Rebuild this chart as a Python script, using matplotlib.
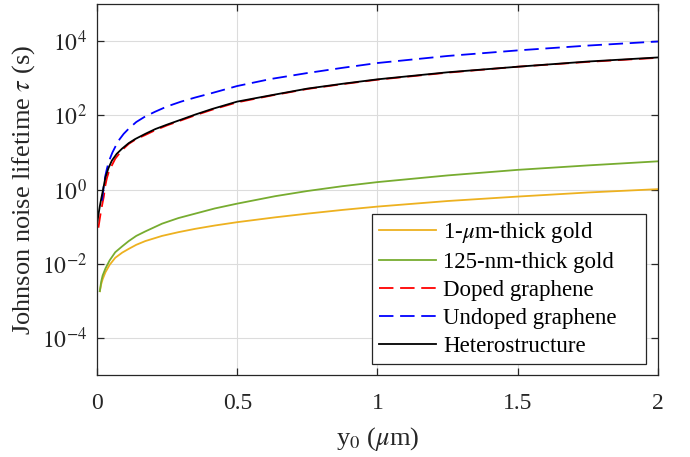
import numpy as np
import matplotlib
matplotlib.use("Agg")
import matplotlib.pyplot as plt

# values (x in um, log10 of tau in s)
gold_x = [0.01, 0.015, 0.02, 0.03, 0.045, 0.065, 0.09, 0.113, 0.14, 0.172,
          0.232, 0.29, 0.35, 0.42, 0.5, 0.635, 0.75, 0.875, 1.0, 1.25,
          1.5, 1.75, 2.0]
gold_1um = [-2.74, -2.55, -2.42, -2.23, -2.03, -1.84, -1.70, -1.60, -1.49,
            -1.39, -1.25, -1.15, -1.06, -0.97, -0.88, -0.75, -0.65, -0.55,
            -0.46, -0.31, -0.19, -0.08, 0.01]
gold_125nm = [-2.74, -2.48, -2.32, -2.13, -1.91, -1.69, -1.53, -1.39, -1.25,
              -1.13, -0.92, -0.77, -0.65, -0.51, -0.38, -0.18, -0.04, 0.09,
              0.20, 0.38, 0.53, 0.65, 0.76]

hetero_x = [0.0, 0.005, 0.01, 0.015, 0.021, 0.03, 0.041, 0.053, 0.07, 0.089,
            0.113, 0.136, 0.172, 0.208, 0.25, 0.291, 0.35, 0.41, 0.5, 0.62,
            0.75, 0.875, 1.0, 1.25, 1.5, 1.75, 2.0]
hetero = [-0.94, -0.68, -0.45, -0.25, -0.03, 0.33, 0.58, 0.78, 0.96, 1.10,
          1.25, 1.36, 1.50, 1.63, 1.75, 1.86, 2.02, 2.17, 2.37, 2.54, 2.72,
          2.85, 2.97, 3.16, 3.31, 3.45, 3.56]

doped_x = [0.005, 0.01, 0.015, 0.02, 0.024, 0.03, 0.035, 0.041, 0.047, 0.053,
           0.065, 0.089, 0.113, 0.14, 0.172, 0.208, 0.25, 0.291, 0.35, 0.41,
           0.5, 0.62, 0.75, 0.875, 1.0, 1.25, 1.5, 1.75, 2.0]
doped = [-1.03, -0.78, -0.55, -0.35, -0.20, 0.12, 0.30, 0.45, 0.55, 0.65,
         0.83, 1.06, 1.23, 1.36, 1.47, 1.60, 1.73, 1.84, 2.00, 2.15, 2.35,
         2.53, 2.71, 2.84, 2.96, 3.15, 3.31, 3.44, 3.55]

undoped_x = [0.018, 0.024, 0.03, 0.035, 0.041, 0.047, 0.055, 0.065, 0.08,
             0.095, 0.113, 0.14, 0.172, 0.208, 0.25, 0.3, 0.35, 0.41, 0.5,
             0.62, 0.75, 0.875, 1.0, 1.25, 1.5, 1.75, 2.0]
undoped = [-0.30, 0.10, 0.38, 0.55, 0.72, 0.85, 1.00, 1.15, 1.35, 1.50, 1.64,
           1.82, 1.97, 2.10, 2.24, 2.37, 2.48, 2.60, 2.79, 2.98, 3.14, 3.28,
           3.41, 3.60, 3.75, 3.88, 3.99]

yticks = [1e-4, 1e-2, 1e0, 1e2, 1e4]
xticks = [0, 0.5, 1, 1.5, 2]
xtick_labels = ["0", "0.5", "1", "1.5", "2"]

plt.rcParams["font.family"] = ["Liberation Serif", "DejaVu Serif"]
plt.rcParams["mathtext.fontset"] = "stix"

fig = plt.figure(figsize=(6.9, 4.57), dpi=100)
ax = fig.add_axes([0.1406, 0.1794, 0.8130, 0.8118])

lw = 1.3
dash = (8, 3.7)
ax.plot(gold_x, 10.0 ** np.array(gold_1um), color="#EDB120", lw=lw,
        label=r"1-$\mu$m-thick gold")
ax.plot(gold_x, 10.0 ** np.array(gold_125nm), color="#77AC30", lw=lw,
        label="125-nm-thick gold")
ax.plot(doped_x, 10.0 ** np.array(doped), color="red", lw=lw,
        dashes=dash, label="Doped graphene")
ax.plot(undoped_x, 10.0 ** np.array(undoped), color="blue", lw=lw,
        dashes=dash, label="Undoped graphene")
ax.plot(hetero_x, 10.0 ** np.array(hetero), color="black", lw=lw,
        label="Heterostructure")

ax.set_yscale("log")
ax.set_xlim(0, 2)
ax.set_ylim(1e-5, 1e5)
ax.set_yticks(yticks)
ax.set_yticklabels([r"$10^{%d}$" % int(np.log10(t)) for t in yticks])
ax.minorticks_off()
ax.set_xticks(xticks)
ax.set_xticklabels(xtick_labels)

ax.grid(True, color="#dcdcdc", lw=0.8)
ax.set_axisbelow(True)
for s in ax.spines.values():
    s.set_color("#262626")
    s.set_linewidth(0.9)
ax.tick_params(direction="in", top=True, right=True, length=5,
               width=0.9, color="#262626", labelsize=17,
               labelcolor="#262626")
ax.tick_params(axis="y", pad=7)
ax.tick_params(axis="x", pad=13)

ax.set_xlabel(r"y$_0$ ($\mu$m)", fontsize=19, color="#262626", labelpad=8)
ax.set_ylabel(r"Johnson noise lifetime $\tau$ (s)", fontsize=19,
              color="#262626", labelpad=4)

# legend box stretched like the MATLAB one (extra room on the right)
leg = ax.legend(loc="lower left", bbox_to_anchor=(0.490, 0.0296, 0.4886, 0),
                mode="expand", borderaxespad=0, fontsize=16.5,
                fancybox=False, framealpha=1, edgecolor="#262626",
                handlelength=2.5, handletextpad=0.3, labelspacing=0.3,
                borderpad=0.3)
leg.get_frame().set_linewidth(0.9)

fig.savefig("out.png", dpi=100)
